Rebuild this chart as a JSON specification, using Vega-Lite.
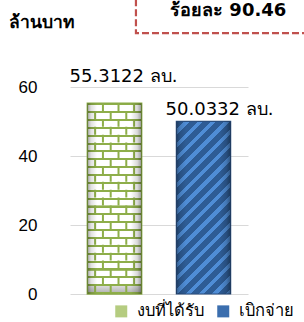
{
  "$schema": "https://vega.github.io/schema/vega-lite/v6.json",
  "autosize": {"type": "none"},
  "padding": {"left": 70, "top": 87, "right": 56, "bottom": 28},
  "width": 178,
  "height": 207,
  "background": "white",
  "config": {"view": {"stroke": null}, "scale": {"bandPaddingInner": 0.39, "bandPaddingOuter": 0.195}},
  "data": {"values": [
    {"cat": "งบที่ได้รับ", "value": 55.3122, "label": "55.3122 ลบ."},
    {"cat": "เบิกจ่าย", "value": 50.0332, "label": "50.0332 ลบ.", "note": "ร้อยละ 90.46"}
  ]},
  "encoding": {
    "x": {"field": "cat", "type": "nominal", "axis": null, "sort": null},
    "y": {
      "field": "value", "type": "quantitative",
      "scale": {"domain": [0, 60], "nice": false},
      "axis": {
        "values": [0, 20, 40, 60], "grid": true, "gridColor": "#d9d9d9", "gridWidth": 1.2,
        "domain": false, "ticks": false, "tickSize": 0, "labelPadding": 33,
        "labelFont": "Liberation Sans", "labelFontSize": 17, "labelColor": "#000000",
        "title": "ล้านบาท", "titleAngle": 0, "titleX": -62, "titleY": -60,
        "titleAlign": "left", "titleBaseline": "alphabetic",
        "titleFont": "DejaVu Sans", "titleFontSize": 17.5, "titleFontWeight": "bold", "titleColor": "#000000"
      }
    }
  },
  "layer": [
    {
      "mark": {"type": "bar"},
      "encoding": {
        "color": {
          "field": "cat", "type": "nominal", "sort": null,
          "scale": {"domain": ["งบที่ได้รับ", "เบิกจ่าย"], "range": ["#b5cc80", "#3b6eae"]},
          "legend": {
            "title": null, "orient": "none", "legendX": 43, "legendY": 216, "direction": "horizontal",
            "symbolType": "square", "symbolSize": 144, "symbolStrokeWidth": 0,
            "labelFont": "DejaVu Sans", "labelFontSize": 16.5, "labelColor": "#000000",
            "labelOffset": 7, "columnPadding": 11
          }
        }
      }
    },
    {
      "transform": [{"filter": "datum.cat === 'งบที่ได้รับ'"}],
      "mark": {
        "type": "bar", "stroke": "#8aab46", "strokeWidth": 1.5,
        "fill": {"gradient": "linear", "x1": 0, "y1": 0, "x2": 0, "y2": 1, "stops": [
          {"offset": 0, "color": "#8eae4a"}, {"offset": 0.0105, "color": "#8eae4a"}, {"offset": 0.011, "color": "#ffffff"}, {"offset": 0.0412, "color": "#ffffff"},
          {"offset": 0.04125, "color": "#8eae4a"}, {"offset": 0.05175, "color": "#8eae4a"}, {"offset": 0.05225, "color": "#ffffff"}, {"offset": 0.08245, "color": "#ffffff"},
          {"offset": 0.0825, "color": "#8eae4a"}, {"offset": 0.093, "color": "#8eae4a"}, {"offset": 0.0935, "color": "#ffffff"}, {"offset": 0.1237, "color": "#ffffff"},
          {"offset": 0.12375, "color": "#8eae4a"}, {"offset": 0.13425, "color": "#8eae4a"}, {"offset": 0.13475, "color": "#ffffff"}, {"offset": 0.16495, "color": "#ffffff"},
          {"offset": 0.165, "color": "#8eae4a"}, {"offset": 0.1755, "color": "#8eae4a"}, {"offset": 0.176, "color": "#ffffff"}, {"offset": 0.2062, "color": "#ffffff"},
          {"offset": 0.20625, "color": "#8eae4a"}, {"offset": 0.21675, "color": "#8eae4a"}, {"offset": 0.21725, "color": "#ffffff"}, {"offset": 0.24745, "color": "#ffffff"},
          {"offset": 0.2475, "color": "#8eae4a"}, {"offset": 0.258, "color": "#8eae4a"}, {"offset": 0.2585, "color": "#ffffff"}, {"offset": 0.2887, "color": "#ffffff"},
          {"offset": 0.28875, "color": "#8eae4a"}, {"offset": 0.29925, "color": "#8eae4a"}, {"offset": 0.29975, "color": "#ffffff"}, {"offset": 0.32995, "color": "#ffffff"},
          {"offset": 0.33, "color": "#8eae4a"}, {"offset": 0.3405, "color": "#8eae4a"}, {"offset": 0.341, "color": "#ffffff"}, {"offset": 0.3712, "color": "#ffffff"},
          {"offset": 0.37125, "color": "#8eae4a"}, {"offset": 0.38175, "color": "#8eae4a"}, {"offset": 0.38225, "color": "#ffffff"}, {"offset": 0.41245, "color": "#ffffff"},
          {"offset": 0.4125, "color": "#8eae4a"}, {"offset": 0.423, "color": "#8eae4a"}, {"offset": 0.4235, "color": "#ffffff"}, {"offset": 0.4537, "color": "#ffffff"},
          {"offset": 0.45375, "color": "#8eae4a"}, {"offset": 0.46425, "color": "#8eae4a"}, {"offset": 0.46475, "color": "#ffffff"}, {"offset": 0.49495, "color": "#ffffff"},
          {"offset": 0.495, "color": "#8eae4a"}, {"offset": 0.5055, "color": "#8eae4a"}, {"offset": 0.506, "color": "#ffffff"}, {"offset": 0.5362, "color": "#ffffff"},
          {"offset": 0.53625, "color": "#8eae4a"}, {"offset": 0.54675, "color": "#8eae4a"}, {"offset": 0.54725, "color": "#ffffff"}, {"offset": 0.57745, "color": "#ffffff"},
          {"offset": 0.5775, "color": "#8eae4a"}, {"offset": 0.588, "color": "#8eae4a"}, {"offset": 0.5885, "color": "#ffffff"}, {"offset": 0.6187, "color": "#ffffff"},
          {"offset": 0.61875, "color": "#8eae4a"}, {"offset": 0.62925, "color": "#8eae4a"}, {"offset": 0.62975, "color": "#ffffff"}, {"offset": 0.65995, "color": "#ffffff"},
          {"offset": 0.66, "color": "#8eae4a"}, {"offset": 0.6705, "color": "#8eae4a"}, {"offset": 0.671, "color": "#ffffff"}, {"offset": 0.7012, "color": "#ffffff"},
          {"offset": 0.70125, "color": "#8eae4a"}, {"offset": 0.71175, "color": "#8eae4a"}, {"offset": 0.71225, "color": "#ffffff"}, {"offset": 0.74245, "color": "#ffffff"},
          {"offset": 0.7425, "color": "#8eae4a"}, {"offset": 0.753, "color": "#8eae4a"}, {"offset": 0.7535, "color": "#ffffff"}, {"offset": 0.7837, "color": "#ffffff"},
          {"offset": 0.78375, "color": "#8eae4a"}, {"offset": 0.79425, "color": "#8eae4a"}, {"offset": 0.79475, "color": "#ffffff"}, {"offset": 0.82495, "color": "#ffffff"},
          {"offset": 0.825, "color": "#8eae4a"}, {"offset": 0.8355, "color": "#8eae4a"}, {"offset": 0.836, "color": "#ffffff"}, {"offset": 0.8662, "color": "#ffffff"},
          {"offset": 0.86625, "color": "#8eae4a"}, {"offset": 0.87675, "color": "#8eae4a"}, {"offset": 0.87725, "color": "#ffffff"}, {"offset": 0.90745, "color": "#ffffff"},
          {"offset": 0.9075, "color": "#8eae4a"}, {"offset": 0.918, "color": "#8eae4a"}, {"offset": 0.9185, "color": "#ffffff"}, {"offset": 0.9487, "color": "#ffffff"},
          {"offset": 0.94875, "color": "#8eae4a"}, {"offset": 0.95925, "color": "#8eae4a"}, {"offset": 0.95975, "color": "#d8d8d8"}, {"offset": 0.98995, "color": "#b8b8b8"},
          {"offset": 0.99, "color": "#8eae4a"}, {"offset": 1, "color": "#8eae4a"}
        ]}
      },
      "encoding": {}
    },
    {
      "transform": [{"filter": "datum.cat === 'งบที่ได้รับ'"}],
      "mark": {"type": "rule", "color": "#8eae4a", "strokeWidth": 2, "strokeDash": [7.87, 7.87], "strokeDashOffset": 0},
      "encoding": {"x": {"field": "cat", "type": "nominal", "bandPosition": 0.287}, "y2": {"datum": 0}}
    },
    {
      "transform": [{"filter": "datum.cat === 'งบที่ได้รับ'"}],
      "mark": {"type": "rule", "color": "#8eae4a", "strokeWidth": 2, "strokeDash": [7.87, 7.87], "strokeDashOffset": 0},
      "encoding": {"x": {"field": "cat", "type": "nominal", "bandPosition": 0.574}, "y2": {"datum": 0}}
    },
    {
      "transform": [{"filter": "datum.cat === 'งบที่ได้รับ'"}],
      "mark": {"type": "rule", "color": "#8eae4a", "strokeWidth": 2, "strokeDash": [7.87, 7.87], "strokeDashOffset": 0},
      "encoding": {"x": {"field": "cat", "type": "nominal", "bandPosition": 0.861}, "y2": {"datum": 0}}
    },
    {
      "transform": [{"filter": "datum.cat === 'งบที่ได้รับ'"}],
      "mark": {"type": "rule", "color": "#8eae4a", "strokeWidth": 2, "strokeDash": [7.87, 7.87], "strokeDashOffset": 7.87},
      "encoding": {"x": {"field": "cat", "type": "nominal", "bandPosition": 0.143}, "y2": {"datum": 0}}
    },
    {
      "transform": [{"filter": "datum.cat === 'งบที่ได้รับ'"}],
      "mark": {"type": "rule", "color": "#8eae4a", "strokeWidth": 2, "strokeDash": [7.87, 7.87], "strokeDashOffset": 7.87},
      "encoding": {"x": {"field": "cat", "type": "nominal", "bandPosition": 0.43}, "y2": {"datum": 0}}
    },
    {
      "transform": [{"filter": "datum.cat === 'งบที่ได้รับ'"}],
      "mark": {"type": "rule", "color": "#8eae4a", "strokeWidth": 2, "strokeDash": [7.87, 7.87], "strokeDashOffset": 7.87},
      "encoding": {"x": {"field": "cat", "type": "nominal", "bandPosition": 0.717}, "y2": {"datum": 0}}
    },
    {
      "transform": [{"filter": "datum.cat === 'เบิกจ่าย'"}],
      "mark": {
        "type": "bar", "stroke": "#2a4f80", "strokeWidth": 1.2,
        "fill": {"gradient": "linear", "x1": 0, "y1": 0, "x2": 0.376, "y2": 1.196, "stops": [
          {"offset": 0, "color": "#2e5c95"}, {"offset": 0.0352, "color": "#2e5c95"}, {"offset": 0.0355, "color": "#4f8dd6"}, {"offset": 0.0585, "color": "#4f8dd6"},
          {"offset": 0.0588, "color": "#2e5c95"}, {"offset": 0.094, "color": "#2e5c95"}, {"offset": 0.0943, "color": "#4f8dd6"}, {"offset": 0.1173, "color": "#4f8dd6"},
          {"offset": 0.1176, "color": "#2e5c95"}, {"offset": 0.1528, "color": "#2e5c95"}, {"offset": 0.1531, "color": "#4f8dd6"}, {"offset": 0.1761, "color": "#4f8dd6"},
          {"offset": 0.1765, "color": "#2e5c95"}, {"offset": 0.2117, "color": "#2e5c95"}, {"offset": 0.212, "color": "#4f8dd6"}, {"offset": 0.235, "color": "#4f8dd6"},
          {"offset": 0.2353, "color": "#2e5c95"}, {"offset": 0.2705, "color": "#2e5c95"}, {"offset": 0.2708, "color": "#4f8dd6"}, {"offset": 0.2938, "color": "#4f8dd6"},
          {"offset": 0.2941, "color": "#2e5c95"}, {"offset": 0.3293, "color": "#2e5c95"}, {"offset": 0.3296, "color": "#4f8dd6"}, {"offset": 0.3526, "color": "#4f8dd6"},
          {"offset": 0.3529, "color": "#2e5c95"}, {"offset": 0.3881, "color": "#2e5c95"}, {"offset": 0.3884, "color": "#4f8dd6"}, {"offset": 0.4114, "color": "#4f8dd6"},
          {"offset": 0.4118, "color": "#2e5c95"}, {"offset": 0.447, "color": "#2e5c95"}, {"offset": 0.4473, "color": "#4f8dd6"}, {"offset": 0.4703, "color": "#4f8dd6"},
          {"offset": 0.4706, "color": "#2e5c95"}, {"offset": 0.5058, "color": "#2e5c95"}, {"offset": 0.5061, "color": "#4f8dd6"}, {"offset": 0.5291, "color": "#4f8dd6"},
          {"offset": 0.5294, "color": "#2e5c95"}, {"offset": 0.5646, "color": "#2e5c95"}, {"offset": 0.5649, "color": "#4f8dd6"}, {"offset": 0.5879, "color": "#4f8dd6"},
          {"offset": 0.5882, "color": "#2e5c95"}, {"offset": 0.6234, "color": "#2e5c95"}, {"offset": 0.6237, "color": "#4f8dd6"}, {"offset": 0.6467, "color": "#4f8dd6"},
          {"offset": 0.6471, "color": "#2e5c95"}, {"offset": 0.6823, "color": "#2e5c95"}, {"offset": 0.6826, "color": "#4f8dd6"}, {"offset": 0.7056, "color": "#4f8dd6"},
          {"offset": 0.7059, "color": "#2e5c95"}, {"offset": 0.7411, "color": "#2e5c95"}, {"offset": 0.7414, "color": "#4f8dd6"}, {"offset": 0.7644, "color": "#4f8dd6"},
          {"offset": 0.7647, "color": "#2e5c95"}, {"offset": 0.7999, "color": "#2e5c95"}, {"offset": 0.8002, "color": "#4f8dd6"}, {"offset": 0.8232, "color": "#4f8dd6"},
          {"offset": 0.8235, "color": "#2e5c95"}, {"offset": 0.8587, "color": "#2e5c95"}, {"offset": 0.859, "color": "#4f8dd6"}, {"offset": 0.882, "color": "#4f8dd6"},
          {"offset": 0.8824, "color": "#2e5c95"}, {"offset": 0.9176, "color": "#2e5c95"}, {"offset": 0.9179, "color": "#4f8dd6"}, {"offset": 0.9409, "color": "#4f8dd6"},
          {"offset": 0.9412, "color": "#2e5c95"}, {"offset": 0.9764, "color": "#2e5c95"}, {"offset": 0.9767, "color": "#4f8dd6"}, {"offset": 1, "color": "#4f8dd6"}
        ]}
      },
      "encoding": {}
    },
    {
      "mark": {
        "type": "bar",
        "fill": {"gradient": "linear", "x1": 0, "y1": 0, "x2": 1, "y2": 0, "stops": [
          {"offset": 0, "color": "rgba(0,0,0,0.35)"}, {"offset": 0.07, "color": "rgba(0,0,0,0.12)"}, {"offset": 0.18, "color": "rgba(0,0,0,0)"},
          {"offset": 0.8, "color": "rgba(0,0,0,0)"}, {"offset": 0.92, "color": "rgba(0,0,0,0.15)"}, {"offset": 1, "color": "rgba(0,0,0,0.4)"}
        ]}
      },
      "encoding": {}
    },
    {
      "transform": [{"filter": "datum.cat === 'งบที่ได้รับ'"}],
      "mark": {"type": "text", "font": "DejaVu Sans", "fontSize": 18, "color": "#000000", "align": "center", "baseline": "alphabetic", "dx": 9, "dy": -21},
      "encoding": {"text": {"field": "label"}}
    },
    {
      "transform": [{"filter": "datum.cat === 'เบิกจ่าย'"}],
      "mark": {"type": "text", "font": "DejaVu Sans", "fontSize": 18, "color": "#000000", "align": "center", "baseline": "alphabetic", "dx": 16, "dy": -6},
      "encoding": {"text": {"field": "label"}}
    },
    {
      "transform": [{"filter": "datum.cat === 'งบที่ได้รับ'"}],
      "mark": {"type": "rect", "fill": "white", "fillOpacity": 0, "stroke": "#c0504d", "strokeWidth": 2.2, "strokeDash": [7, 3]},
      "encoding": {
        "x": {"field": "cat", "type": "nominal", "bandPosition": 0.895},
        "x2": {"field": "cat", "bandPosition": 4.2},
        "y": {"datum": 75.6},
        "y2": {"datum": 100}
      }
    },
    {
      "transform": [{"filter": "datum.cat === 'เบิกจ่าย'"}],
      "mark": {"type": "text", "font": "DejaVu Sans", "fontSize": 18, "fontWeight": "bold", "color": "#000000", "align": "center", "baseline": "alphabetic"},
      "encoding": {
        "x": {"field": "cat", "type": "nominal", "bandPosition": 0.955},
        "y": {"datum": 80.6},
        "text": {"field": "note"}
      }
    }
  ]
}
